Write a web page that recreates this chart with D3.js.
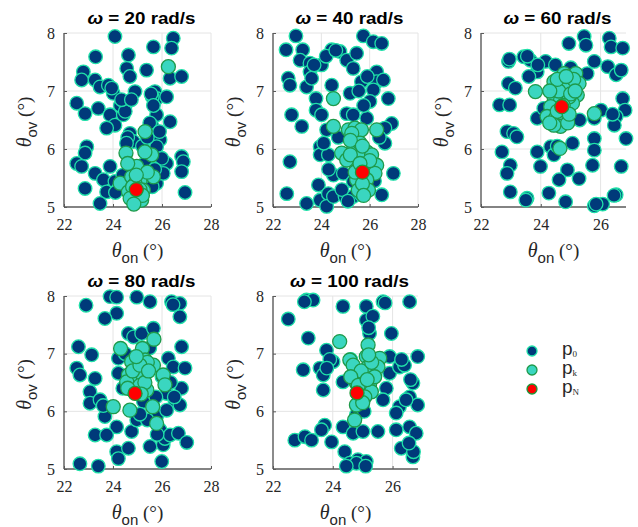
<!DOCTYPE html>
<html><head><meta charset="utf-8">
<script src="https://cdn.jsdelivr.net/npm/d3@7"></script>
<style>body{margin:0;background:#fff}svg{display:block}</style>
</head><body>
<script>
const omegas = [20, 40, 60, 80, 100];
const xTicksFull = [22, 24, 26, 28];
const xTicksShort = [22, 24, 26];
const yTicks = [5, 6, 7, 8];
const legendLabels = ["0", "k", "N"];

// ω = 20
const p0_w20 = [[24.08,7.94],[26.46,7.91],[26.39,7.74],[25.65,7.76],[23.29,7.59],[24.63,7.62],[22.79,7.33],[22.72,7.19],[24.56,7.39],[24.69,7.25],[25.37,7.36],[26.33,7.22],[26.8,7.25],[23.27,7.19],[23.47,7.07],[23.81,7.1],[24.01,6.96],[24.9,6.99],[25.71,6.99],[25.78,6.87],[26.19,6.9],[22.52,6.79],[22.86,6.61],[23.4,6.7],[23.88,6.59],[24.08,6.41],[23.74,6.36],[24.49,6.73],[24.42,6.59],[25.78,6.59],[25.58,6.41],[26.33,6.47],[24.69,6.27],[25.92,6.16],[25.78,6.04],[22.93,6.04],[22.86,5.93],[22.52,5.75],[22.72,5.7],[22.86,5.32],[23.27,5.58],[23.61,5.47],[23.74,5.26],[23.47,5.06],[23.88,5.7],[24.08,5.44],[26.19,5.75],[26.8,5.87],[26.87,5.78],[26.8,5.61],[26.94,5.25],[25.78,5.41],[26.05,5.58],[25.99,5.84],[24.83,6.13],[25.44,5.87],[25.5,6.45],[24.3,6.75],[25.6,6.9],[24.6,6.2],[25.2,6.05],[24.2,5.3],[24.5,6.65],[24.35,6.85],[24.55,6.1],[25.55,6.95],[25.65,6.75],[25.4,6.2],[25.9,6.3],[24.1,5.25],[24.4,5.55],[25.6,5.35],[25.3,5.75],[23.95,7.05],[24.75,6.85],[25.7,5.65]];
const pk_w20 = [[26.26,7.42],[25.31,6.3],[24.53,5.93],[25.58,5.9],[24.97,5.7],[25.65,5.52],[24.29,5.41],[24.76,5.52],[25.1,5.44],[24.83,5.24],[25.03,5.18],[24.9,5.09],[25.17,5.12],[24.63,5.26],[25.24,5.29],[25.4,5.6],[24.6,5.75],[25.3,5.95],[24.9,5.4],[24.8,5.35],[25.1,5.3],[24.95,5.55],[24.7,5.15],[25.2,5.2],[24.85,5.05]];
const pN_w20 = [[24.95,5.3]];

// ω = 40
const p0_w40 = [[22.95,7.95],[22.54,7.71],[23.23,7.71],[23.12,7.53],[23.53,7.48],[24.01,7.45],[23.53,7.33],[22.63,7.22],[22.7,7.1],[23.39,7.07],[23.6,7.22],[23.78,6.87],[23.78,6.67],[24.01,6.59],[22.77,6.59],[23.19,6.39],[24.43,7.1],[24.43,7.71],[24.77,7.68],[25.05,7.53],[25.46,7.65],[25.74,7.95],[26.15,7.85],[26.5,7.82],[25.32,7.39],[25.66,7.16],[26.29,7.33],[26.29,7.16],[26.57,7.19],[26.15,7.02],[26.01,6.82],[26.77,6.87],[25.19,6.96],[25.05,6.61],[25.32,6.59],[25.88,6.53],[26.91,6.44],[26.63,6.36],[26.63,6.1],[26.98,5.58],[26.5,5.21],[22.7,5.78],[22.57,5.23],[23.39,5.06],[23.88,5.38],[23.95,5.12],[24.29,5.23],[24.22,5.01],[24.5,5.18],[24.98,5.18],[23.95,6.04],[23.95,5.9],[24.29,5.9],[24.22,6.33],[24.5,5.55],[24.91,5.58],[25.32,5.44],[25.32,5.18],[25.66,5.21],[25.9,7.25],[24.2,7.6],[26.4,6.2],[24.6,7.7],[25.55,7.0],[25.75,6.75],[24.7,6.2],[24.1,6.1],[24.85,5.3],[25.1,5.1],[26.2,5.45],[24.3,5.65],[23.7,7.45]];
const pk_w40 = [[24.5,6.87],[24.5,6.39],[25.12,6.33],[25.39,6.36],[25.66,6.33],[25.26,6.27],[26.29,6.33],[24.84,5.93],[25.32,5.98],[25.88,5.95],[25.6,5.87],[26.08,5.9],[26.29,5.72],[25.46,5.7],[25.88,5.64],[26.22,5.58],[25.46,5.47],[25.88,5.47],[25.53,5.29],[25.95,5.29],[25.05,5.81],[25.6,6.1],[25.2,6.15],[25.7,6.05],[25.4,5.6],[25.7,5.4],[26.0,5.8],[25.2,5.9],[25.6,5.75],[25.75,5.2]];
const pN_w40 = [[25.7,5.6]];

// ω = 60
const p0_w60 = [[22.92,7.51],[23.43,7.59],[23.65,7.53],[23.88,7.33],[23.6,7.25],[24.16,7.51],[24.49,7.45],[24.94,7.82],[25.45,7.94],[25.51,7.79],[26.29,7.91],[26.35,7.76],[26.74,7.74],[25.79,7.51],[26.24,7.42],[26.52,7.28],[26.69,7.36],[22.92,7.13],[23.15,7.05],[22.62,6.76],[22.96,6.76],[23.88,6.53],[26.74,6.87],[26.82,6.67],[26.52,6.56],[26.46,6.41],[26.01,6.67],[25.79,6.53],[26.85,6.18],[22.87,6.3],[23.09,6.27],[23.2,6.21],[22.7,5.95],[22.98,5.72],[22.87,5.58],[23.88,5.95],[23.99,5.7],[24.33,6.04],[24.44,5.9],[25.06,6.1],[24.89,5.64],[24.61,5.47],[25.28,5.49],[25.79,6.18],[25.79,5.98],[25.73,5.72],[26.69,5.7],[22.98,5.26],[23.54,5.15],[24.27,5.24],[24.83,5.09],[25.79,5.02],[26.07,5.05],[26.52,5.21],[25.0,7.4],[26.4,6.6],[22.95,7.55],[23.55,7.6],[23.9,7.45],[24.1,6.7],[25.3,6.5],[24.55,6.05],[25.85,5.05],[26.45,5.2],[23.5,5.12],[25.55,7.3]];
const pk_w60 = [[23.82,6.99],[24.44,7.16],[24.78,7.3],[25.17,7.3],[24.94,7.13],[25.28,7.13],[24.44,6.9],[24.89,7.05],[25.22,6.93],[24.66,6.84],[24.33,6.73],[24.21,6.56],[24.49,6.53],[24.78,6.59],[25.06,6.79],[24.66,6.39],[24.44,6.41],[25.79,6.61],[24.64,6.01],[24.95,6.9],[24.6,7.0],[24.55,7.2],[24.3,7.0],[25.0,6.95],[24.75,6.75],[24.55,6.65],[24.9,6.45],[24.3,6.45],[25.1,7.2],[24.85,7.25],[25.15,7.0],[24.95,6.6]];
const pN_w60 = [[24.7,6.73]];

// ω = 80
const p0_w80 = [[22.9,7.84],[23.88,7.99],[24.15,7.98],[24.97,7.98],[25.51,7.9],[26.39,7.9],[26.73,7.87],[26.73,7.64],[24.15,7.7],[23.67,7.61],[24.63,7.35],[24.84,7.29],[25.17,7.35],[25.65,7.44],[22.59,7.12],[23.13,6.98],[24.22,6.92],[26.26,6.92],[26.46,6.77],[26.8,7.12],[26.94,6.75],[22.52,6.75],[22.65,6.63],[23.27,6.57],[23.06,6.34],[23.06,6.14],[23.47,6.2],[24.22,6.66],[26.19,6.31],[26.53,6.17],[26.8,6.4],[26.73,6.11],[23.67,5.91],[24.15,5.73],[23.27,5.59],[23.74,5.59],[24.76,5.65],[24.97,5.85],[25.24,6.17],[25.51,5.39],[26.05,5.42],[26.12,5.53],[25.92,5.68],[26.33,5.59],[26.67,5.62],[27.01,5.46],[24.15,5.3],[24.22,5.18],[24.63,5.36],[22.65,5.09],[23.4,5.05],[25.99,5.13],[25.78,5.91],[26.19,6.02],[26.0,6.6],[23.6,6.1],[26.45,7.85],[24.5,7.0],[25.5,7.1],[26.35,6.5],[25.4,5.85],[25.1,5.95],[25.8,5.6],[26.5,6.25],[24.4,6.4],[25.75,6.25]];
const pk_w80 = [[24.31,7.09],[25.2,7.09],[25.67,7.25],[24.76,6.86],[25.31,6.89],[25.65,6.8],[25.03,6.72],[24.63,6.63],[24.9,6.57],[25.24,6.6],[24.56,6.51],[26.05,6.63],[26.12,6.46],[25.38,6.37],[24.01,6.08],[24.69,6.02],[25.62,6.08],[25.78,5.79],[25.1,6.45],[25.4,6.85],[24.8,6.7],[25.1,6.8],[24.6,6.4],[25.3,6.5],[24.95,6.95],[25.45,6.7],[25.15,6.3]];
const pN_w80 = [[24.9,6.31]];

// ω = 100
const p0_w100 = [[22.51,7.6],[23.12,7.93],[23.34,7.93],[23.18,7.27],[24.34,7.82],[25.12,7.82],[25.68,7.9],[26.57,7.9],[25.12,7.58],[25.34,7.65],[25.23,7.35],[25.96,7.35],[23.79,7.06],[24.01,6.86],[23.01,6.72],[23.57,6.75],[23.68,6.63],[23.68,6.37],[24.34,6.51],[25.9,6.95],[25.9,6.66],[26.23,6.77],[26.84,6.95],[25.79,6.4],[25.68,6.2],[26.68,6.49],[26.57,6.25],[26.23,6.08],[26.84,6.11],[22.73,5.5],[23.07,5.56],[23.29,5.5],[23.73,5.76],[23.62,5.68],[23.96,5.47],[24.34,5.73],[24.4,5.3],[24.68,5.62],[25.01,5.65],[24.79,5.94],[25.51,5.65],[24.84,5.16],[24.57,5.1],[25.12,5.13],[26.12,5.68],[26.57,5.73],[26.79,5.62],[26.29,5.36],[26.68,5.21],[24.79,5.1],[26.12,5.97],[23.9,6.9],[26.4,6.8],[23.05,7.9],[25.75,7.88],[25.2,7.45],[26.3,6.9],[26.6,6.55],[26.45,6.2],[25.05,6.0],[24.6,6.9],[26.7,5.3],[24.45,5.05],[25.1,5.05],[26.55,5.45],[23.8,6.75]];
const pk_w100 = [[24.23,7.21],[25.18,7.15],[24.57,6.89],[24.68,6.8],[25.12,6.95],[25.57,6.92],[25.18,6.77],[25.51,6.77],[25.07,6.57],[24.79,6.49],[25.23,6.46],[24.96,6.4],[25.29,6.34],[24.84,6.31],[25.07,6.25],[24.79,6.11],[24.73,5.85],[25.4,6.6],[24.95,6.7],[25.3,6.85],[24.6,6.6],[25.0,6.15],[24.85,6.45],[25.15,6.55],[25.2,6.98]];
const pN_w100 = [[24.81,6.32]];

const panelData = [
  {w: omegas[0], p0: p0_w20, pk: pk_w20, pN: pN_w20, xMax: 28, xt: xTicksFull},
  {w: omegas[1], p0: p0_w40, pk: pk_w40, pN: pN_w40, xMax: 28, xt: xTicksFull},
  {w: omegas[2], p0: p0_w60, pk: pk_w60, pN: pN_w60, xMax: 26.85, xt: xTicksShort},
  {w: omegas[3], p0: p0_w80, pk: pk_w80, pN: pN_w80, xMax: 28, xt: xTicksFull},
  {w: omegas[4], p0: p0_w100, pk: pk_w100, pN: pN_w100, xMax: 26.85, xt: xTicksShort}
];
const boxes = [
  {l: 64, t: 33, w: 147, h: 174},
  {l: 273, t: 33, w: 145, h: 174},
  {l: 481, t: 33, w: 145, h: 174},
  {l: 64, t: 296, w: 147, h: 173},
  {l: 273, t: 296, w: 145, h: 173}
];

const styles = {
  p0: {fill: "#003a7a", stroke: "#1fe0a8", r: 6.8, sw: 1.3},
  pk: {fill: "#3ad6c0", stroke: "#1e9a4a", r: 7, sw: 1.3},
  pN: {fill: "#ff0000", stroke: "#1a9a3a", r: 7, sw: 1.3}
};

const svg = d3.select("body").append("svg").attr("width", 638).attr("height", 527);
const serif = "'Liberation Serif','DejaVu Serif',serif";
const sans = "'Liberation Sans',Arial,sans-serif";

panelData.forEach((p, i) => {
  const b = boxes[i];
  const x = d3.scaleLinear().domain([22, p.xMax]).range([b.l, b.l + b.w]);
  const y = d3.scaleLinear().domain([5, 8]).range([b.t + b.h, b.t]);
  const g = svg.append("g");

  // grid
  g.selectAll(".gx").data(p.xt.filter(v => v > 22)).enter().append("line")
    .attr("x1", d => x(d)).attr("x2", d => x(d)).attr("y1", b.t).attr("y2", b.t + b.h)
    .attr("stroke", "#e4e4e4").attr("stroke-width", 1);
  g.selectAll(".gy").data(yTicks.filter(v => v > 5)).enter().append("line")
    .attr("x1", b.l).attr("x2", b.l + b.w).attr("y1", d => y(d)).attr("y2", d => y(d))
    .attr("stroke", "#e4e4e4").attr("stroke-width", 1);

  // axes
  const xa = d3.axisBottom(x).tickValues(p.xt).tickSize(-3).tickPadding(9).tickFormat(d3.format("d"));
  const ya = d3.axisLeft(y).tickValues(yTicks).tickSize(-3).tickPadding(9).tickFormat(d3.format("d"));
  const gx = g.append("g").attr("transform", `translate(0,${b.t + b.h})`).call(xa);
  const gy = g.append("g").attr("transform", `translate(${b.l},0)`).call(ya);
  [gx, gy].forEach(ax => {
    ax.select(".domain").attr("stroke", "#5a5a5a").attr("stroke-width", 1.4);
    ax.selectAll(".tick line").attr("stroke", "#5a5a5a");
    ax.selectAll("text").attr("font-family", serif).attr("font-size", 16).attr("fill", "#262626");
  });
  gx.selectAll("text").attr("dy", "0.9em");
  gx.select(".domain").attr("d", `M${b.l},0H${b.l + b.w}`);
  gy.select(".domain").attr("d", `M0,${b.t}V${b.t + b.h}`);

  // points
  ["p0", "pk", "pN"].forEach(k => {
    const s = styles[k];
    g.selectAll("." + k).data(p[k]).enter().append("circle")
      .attr("cx", d => x(d[0])).attr("cy", d => y(d[1])).attr("r", s.r)
      .attr("fill", s.fill).attr("stroke", s.stroke).attr("stroke-width", s.sw);
  });

  // title
  const cx = b.l + b.w / 2 + 4;
  const title = g.append("text").attr("x", cx).attr("y", b.t - 9).attr("text-anchor", "middle")
    .attr("font-family", sans).attr("font-weight", "bold").attr("font-size", 17).attr("fill", "#000")
    .attr("textLength", p.w >= 100 ? 119 : 108).attr("lengthAdjust", "spacingAndGlyphs");
  title.append("tspan").attr("font-style", "italic").text("ω");
  title.append("tspan").text(` = ${p.w} rad/s`);

  // x label
  const xl = g.append("text").attr("x", b.l + b.w / 2).attr("y", b.t + b.h + 50)
    .attr("text-anchor", "middle").attr("fill", "#262626");
  xl.append("tspan").attr("font-family", serif).attr("font-style", "italic").attr("font-size", 20).text("θ");
  xl.append("tspan").attr("font-family", sans).attr("font-size", 15).attr("dy", 6).text("on");
  xl.append("tspan").attr("font-family", serif).attr("font-size", 19).attr("dy", -6).text(" (°)");

  // y label
  const yl = g.append("text")
    .attr("transform", `translate(${b.l - 33},${b.t + b.h / 2 + 2}) rotate(-90)`)
    .attr("text-anchor", "middle").attr("fill", "#262626");
  yl.append("tspan").attr("font-family", serif).attr("font-style", "italic").attr("font-size", 20).text("θ");
  yl.append("tspan").attr("font-family", sans).attr("font-size", 15).attr("dy", 6).text("ov");
  yl.append("tspan").attr("font-family", serif).attr("font-size", 19).attr("dy", -6).text(" (°)");
});

// legend
const lg = svg.append("g");
["p0", "pk", "pN"].forEach((k, i) => {
  const s = styles[k];
  const yy = 351 + i * 19;
  lg.append("circle").attr("cx", 532).attr("cy", yy).attr("r", 5)
    .attr("fill", s.fill).attr("stroke", s.stroke).attr("stroke-width", 1.3);
  const t = lg.append("text").attr("x", 562).attr("y", yy + 4).attr("fill", "#262626");
  t.append("tspan").attr("font-family", sans).attr("font-size", 19).text("p");
  t.append("tspan").attr("font-family", serif).attr("font-size", 9).attr("dy", 2).text(legendLabels[i]);
});
</script>
</body></html>
